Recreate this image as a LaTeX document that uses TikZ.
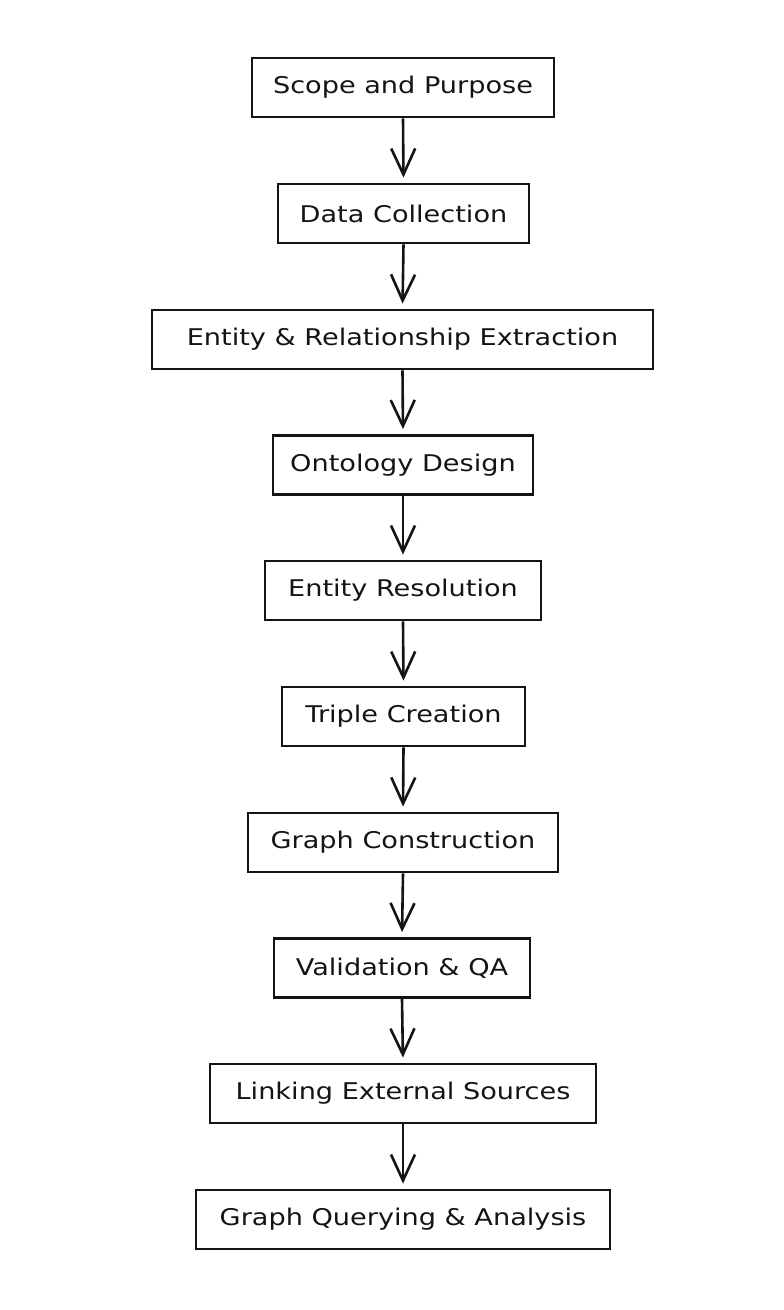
\documentclass[tikz,border=0pt]{standalone}
\usepackage{fontspec}
\setmainfont{DejaVu Sans}[FakeStretch=1.18]
\usetikzlibrary{arrows.meta}
\begin{document}
\begin{tikzpicture}[x=1pt,y=-1pt,
  stepbox/.style={draw=black!92, line width=2.8pt, minimum height=59pt, inner sep=0pt,
    font=\fontsize{23}{26}\selectfont, text=black!92},
  flow/.style={draw=black!92, line width=2.6pt, shorten >=5pt,
    -{Straight Barb[length=26pt,width=24pt,line width=2.6pt]}}]
\useasboundingbox (0,0) rectangle (784,1310);
\node[stepbox, minimum width=302pt] (n1) at (403,87.5) {Scope and Purpose};
\node[stepbox, minimum width=251pt] (n2) at (403.5,213.5) {Data Collection};
\node[stepbox, minimum width=501pt] (n3) at (402.5,339.5) {Entity \& Relationship Extraction};
\node[stepbox, minimum width=260pt] (n4) at (403,465) {Ontology Design};
\node[stepbox, minimum width=276pt] (n5) at (403,590.5) {Entity Resolution};
\node[stepbox, minimum width=243pt] (n6) at (403.5,716.5) {Triple Creation};
\node[stepbox, minimum width=310pt] (n7) at (403,842.5) {Graph Construction};
\node[stepbox, minimum width=256pt] (n8) at (402,968) {Validation \& QA};
\node[stepbox, minimum width=386pt] (n9) at (403,1093.5) {Linking External Sources};
\node[stepbox, minimum width=414pt] (n10) at (403,1219.5) {Graph Querying \& Analysis};
\foreach \a/\b in {n1/n2,n2/n3,n3/n4,n4/n5,n5/n6,n6/n7,n7/n8,n8/n9,n9/n10}
  \draw[flow] (\a.south) -- (\b.north);
\end{tikzpicture}
\end{document}
